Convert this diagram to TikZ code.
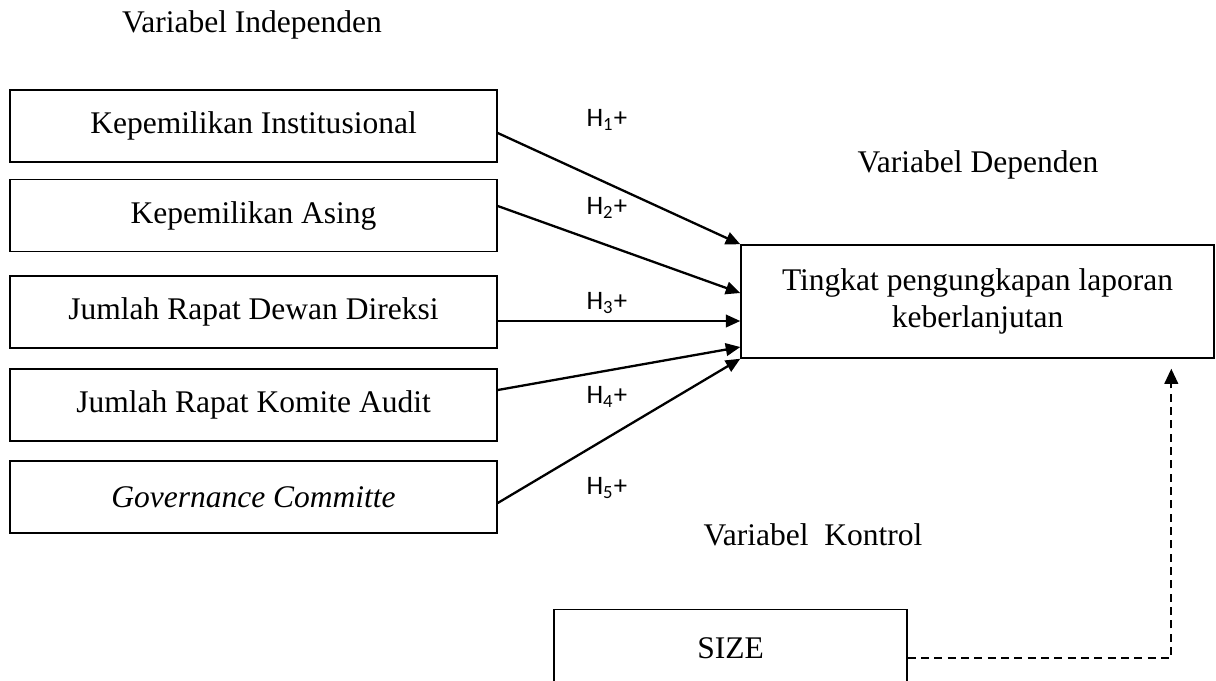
\documentclass[tikz,border=0pt]{standalone}
\usepackage{fontspec}
\setmainfont{Liberation Serif}
\newfontfamily\hfont{Carlito}
\usetikzlibrary{arrows.meta,positioning,calc}

\begin{document}
\begin{tikzpicture}[x=0.4125pt,y=-0.4125pt,
  font=\fontsize{13}{15.5}\selectfont,
  varbox/.style={draw,line width=0.6pt,minimum width=200.9pt,minimum height=29.7pt,inner sep=0pt},
  hyp/.style={-{Triangle[length=6pt,width=5.2pt]},line width=0.95pt},
  hlab/.style={anchor=west,font=\hfont\fontsize{11}{13}\selectfont}]
\clip (0,0) rectangle (1216,680);

% independent variables
\node[varbox] (b1) at (253.5,126) {Kepemilikan Institusional};
\node[varbox] (b2) at (253.5,215.5) {Kepemilikan Asing};
\node[varbox] (b3) at (253.5,312) {Jumlah Rapat Dewan Direksi};
\node[varbox] (b4) at (253.5,405) {Jumlah Rapat Komite Audit};
\node[varbox] (b5) at (253.5,497) {\textit{Governance Committe}};

% dependent and control
\node[draw,line width=0.6pt,minimum width=195.1pt,minimum height=46.6pt,align=center]
  (dep) at (977.5,301.5) {Tingkat pengungkapan laporan\\keberlanjutan};
\node[draw,line width=0.6pt,minimum width=145.6pt,minimum height=32pt]
  (size) at (730.5,648) {SIZE};

\node[] (tind) at (252,25) {Variabel Independen};
\node[] (tdep) at (978,165) {Variabel Dependen};
\node[] (tkon) at (813,535) {Variabel\ \ Kontrol};

\draw[hyp] ($(b1.east)+(0,7)$) -- (dep.north west);
\draw[hyp] ($(b2.east)+(0,-9.5)$) -- ($(dep.west)+(0,-8.5)$);
\draw[hyp] ($(b3.east)+(0,9)$) -- ($(dep.west)+(0,19.5)$);
\draw[hyp] ($(b4.east)+(0,-15)$) -- ($(dep.west)+(0,45.5)$);
\draw[hyp] ($(b5.east)+(0,6)$) -- (dep.south west);

\node[hlab] (h1) at (578,120) {H\textsubscript{1}+};
\node[hlab] (h2) at (578,208) {H\textsubscript{2}+};
\node[hlab] (h3) at (578,303) {H\textsubscript{3}+};
\node[hlab] (h4) at (578,397) {H\textsubscript{4}+};
\node[hlab] (h5) at (578,488) {H\textsubscript{5}+};

\coordinate (ctip) at ($(dep.south west)+(431,10)$);
\draw[-{Triangle[length=6.2pt,width=5.6pt]},line width=0.8pt,dash pattern=on 3.3pt off 2.2pt]
  ($(size.east)+(0,10)$) -| (ctip);
\end{tikzpicture}
\end{document}
